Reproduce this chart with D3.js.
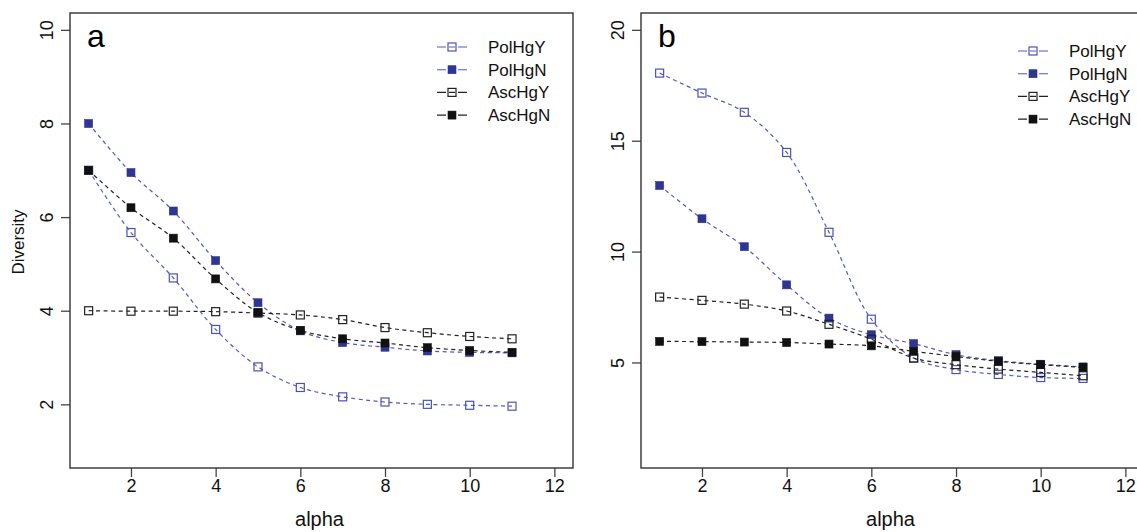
<!DOCTYPE html>
<html><head><meta charset="utf-8">
<script src="https://cdn.jsdelivr.net/npm/d3@7"></script>
<style>
html,body{margin:0;padding:0;background:#fff;}
svg{display:block;font-family:"Liberation Sans",Arial,sans-serif;}
</style></head>
<body>
<svg id="chart" width="1137" height="532"></svg>
<script>
// ---- data ----
const alpha = [1,2,3,4,5,6,7,8,9,10,11];
const seriesNames = ["PolHgY","PolHgN","AscHgY","AscHgN"];
const xTicks = [2,4,6,8,10,12];
const aYTicks = [2,4,6,8,10];
const bYTicks = [5,10,15,20];

const a_PolHgY = [7.0, 5.67, 4.7, 3.6, 2.8, 2.36, 2.16, 2.05, 2.0, 1.98, 1.96];
const a_PolHgN = [8.0, 6.95, 6.13, 5.07, 4.17, 3.57, 3.32, 3.22, 3.14, 3.11, 3.1];
const a_AscHgY = [4.0, 3.99, 3.99, 3.98, 3.95, 3.91, 3.81, 3.64, 3.53, 3.45, 3.4];
const a_AscHgN = [7.0, 6.2, 5.55, 4.68, 3.96, 3.58, 3.4, 3.31, 3.21, 3.15, 3.11];

const b_PolHgY = [18.05, 17.15, 16.28, 14.47, 10.87, 6.95, 5.2, 4.68, 4.46, 4.32, 4.28];
const b_PolHgN = [12.98, 11.48, 10.22, 8.5, 7.0, 6.25, 5.85, 5.35, 5.08, 4.92, 4.8];
const b_AscHgY = [7.95, 7.8, 7.63, 7.32, 6.72, 6.05, 5.2, 4.9, 4.7, 4.55, 4.4];
const b_AscHgN = [5.95, 5.94, 5.92, 5.9, 5.83, 5.75, 5.5, 5.27, 5.05, 4.9, 4.78];

// ---- styles ----
const styles = {
  PolHgY:{line:"#5259c0", stroke:"#4b52b3", fill:"none"},
  PolHgN:{line:"#5259c0", stroke:"#2e3592", fill:"#2e3592"},
  AscHgY:{line:"#222", stroke:"#222", fill:"none"},
  AscHgN:{line:"#222", stroke:"#111", fill:"#111"}
};

const svg = d3.select("#chart");

function panel(opts){
  const {left,right,top,bottom,xDom,yDom,yTicks,label,data,legX,legY} = opts;
  const ext = (d)=>{const r=d[1]-d[0];return [d[0]-0.04*r,d[1]+0.04*r];};
  const x = d3.scaleLinear().domain(ext(xDom)).range([left,right]);
  const y = d3.scaleLinear().domain(ext(yDom)).range([bottom,top]);
  const g = svg.append("g");

  // x axis
  const xa = g.append("g").attr("transform",`translate(0,${bottom})`)
    .call(d3.axisBottom(x).tickValues(xTicks).tickSize(9).tickPadding(4).tickFormat(d3.format("d")));
  xa.select(".domain").remove();
  xa.selectAll("line").attr("stroke","#444").attr("stroke-width",1.3);
  xa.selectAll("text").attr("font-size",18).attr("fill","#111").attr("dy","0.62em");

  // y axis
  const ya = g.append("g").attr("transform",`translate(${left},0)`)
    .call(d3.axisLeft(y).tickValues(yTicks).tickSize(9).tickFormat(d3.format("d")));
  ya.select(".domain").remove();
  ya.selectAll("line").attr("stroke","#444").attr("stroke-width",1.3);
  ya.selectAll("text").attr("font-size",18).attr("fill","#111")
    .attr("x",null).attr("dy",null)
    .attr("text-anchor","middle")
    .attr("transform",function(){return "translate(-17,0) rotate(-90)";});

  // box
  g.append("rect").attr("x",left).attr("y",top).attr("width",right-left).attr("height",bottom-top)
    .attr("fill","none").attr("stroke","#333").attr("stroke-width",1.4);

  // series
  const line = d3.line().x((d,i)=>x(alpha[i])).y(d=>y(d)).curve(d3.curveCatmullRom.alpha(0.5));
  const ms = 8;
  seriesNames.forEach((name)=>{
    const vals = data[name], st = styles[name];
    g.append("path").attr("d",line(vals)).attr("fill","none")
      .attr("stroke",st.line).attr("stroke-width",1.2).attr("stroke-dasharray","4,3.5");
    g.selectAll(null).data(vals).enter().append("rect")
      .attr("x",(d,i)=>x(alpha[i])-ms/2).attr("y",d=>y(d)-ms/2)
      .attr("width",ms).attr("height",ms)
      .attr("fill",st.fill).attr("stroke",st.stroke).attr("stroke-width",st.fill==="none"?1.2:0.6);
  });

  // panel letter
  g.append("text").attr("x",left+17).attr("y",top+34).attr("font-size",32).attr("fill","#000").text(label);

  // x label
  g.append("text").attr("x",(left+right)/2-2).attr("y",526).attr("text-anchor","middle")
    .attr("font-size",20).attr("fill","#111").text("alpha");

  // legend
  seriesNames.forEach((name,i)=>{
    const st = styles[name];
    const yy = legY + i*22.7;
    g.append("line").attr("x1",legX-15).attr("x2",legX+15).attr("y1",yy).attr("y2",yy)
      .attr("stroke",st.line).attr("stroke-width",1.1).attr("stroke-dasharray","9,3,6,3,9");
    g.append("rect").attr("x",legX-ms/2).attr("y",yy-ms/2).attr("width",ms).attr("height",ms)
      .attr("fill",st.fill).attr("stroke",st.stroke).attr("stroke-width",st.fill==="none"?1.2:0.6);
    g.append("text").attr("x",legX+36).attr("y",yy).attr("dy","0.35em")
      .attr("font-size",17).attr("fill","#111").text(name);
  });
  return g;
}

panel({left:70,right:573,top:13,bottom:468,xDom:[1,12],yDom:[1,10],yTicks:aYTicks,label:"a",
  data:{PolHgY:a_PolHgY,PolHgN:a_PolHgN,AscHgY:a_AscHgY,AscHgN:a_AscHgN},legX:452,legY:47});
panel({left:641,right:1144,top:13,bottom:468,xDom:[1,12],yDom:[1,20],yTicks:bYTicks,label:"b",
  data:{PolHgY:b_PolHgY,PolHgN:b_PolHgN,AscHgY:b_AscHgY,AscHgN:b_AscHgN},legX:1033,legY:51});

// y axis title
svg.append("text").attr("transform","translate(24,242) rotate(-90)").attr("text-anchor","middle")
  .attr("font-size",17).attr("fill","#111").text("Diversity");
</script>
</body></html>
